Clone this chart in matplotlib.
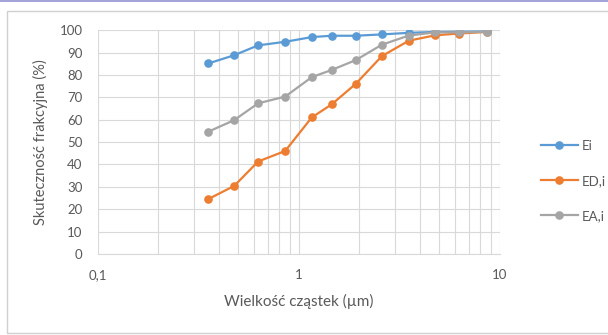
import matplotlib.pyplot as plt
from matplotlib.ticker import FixedLocator, LogLocator, NullFormatter
from matplotlib.patches import Rectangle
from matplotlib.lines import Line2D

# particle size (um) and fractional efficiency (%)
size = [0.354, 0.477, 0.627, 0.855, 1.16, 1.455, 1.92, 2.59, 3.53, 4.77, 6.27, 8.64]
ei = [85.1, 88.8, 93.2, 94.8, 96.9, 97.5, 97.5, 98.1, 98.8, 99.2, 99.3, 99.4]
ed = [24.5, 30.4, 41.3, 46.0, 61.0, 66.8, 76.0, 88.4, 95.3, 97.7, 98.5, 99.2]
ea = [54.6, 59.8, 67.3, 70.3, 79.0, 82.2, 86.6, 93.5, 97.6, 99.0, 99.0, 99.3]

names = ["Ei", "ED,i", "EA,i"]
colors = ["#5B9BD5", "#ED7D31", "#A5A5A5"]
xticks = [0.1, 1, 10]
xlabels = ["0,1", "1", "10"]
yticks = list(range(0, 101, 10))

plt.rcParams['font.family'] = ['Lato', 'DejaVu Sans']
txt = "#595959"
grid = "#d9d9d9"

fig = plt.figure(figsize=(6.08, 3.35), dpi=100)
ax = fig.add_axes([0.161, 0.242, 0.661, 0.668])

for ys, name, col in zip([ei, ed, ea], names, colors):
    ax.plot(size, ys, color=col, lw=1.6, marker='o', ms=5.2, label=name)

ax.set_xscale('log')
ax.set_xlim(0.1, 10)
ax.set_ylim(0, 100)
ax.xaxis.set_major_locator(FixedLocator(xticks))
ax.set_xticklabels(xlabels)
ax.xaxis.set_minor_locator(LogLocator(base=10, subs=range(2, 10)))
ax.xaxis.set_minor_formatter(NullFormatter())
ax.set_yticks(yticks)

ax.grid(True, which='both', color=grid, lw=0.8)
ax.set_axisbelow(True)
for s in ax.spines.values():
    s.set_visible(False)
ax.spines['bottom'].set_visible(True)
ax.spines['bottom'].set_color(grid)
ax.tick_params(which='both', length=0, labelsize=9.5, colors=txt)
ax.tick_params(axis='x', pad=11)
ax.tick_params(axis='y', pad=11)

ax.set_xlabel("Wielkość cząstek (µm)", fontsize=11, color=txt, labelpad=9)
ax.set_ylabel("Skuteczność frakcyjna (%)", fontsize=10.5, color=txt, labelpad=8)

handles = [Line2D([], [], color=c, lw=1.6, marker='o', ms=5.2) for c in colors]
fig.legend(handles, names, loc='center left', bbox_to_anchor=(0.87, 0.46),
           frameon=False, fontsize=9.5, labelcolor=txt, labelspacing=1.75,
           handlelength=2.8, handletextpad=0.3)

# chart frame and top strip
fig.patches.append(Rectangle((0.012, 0.006), 1.1, 0.962, transform=fig.transFigure,
                             fill=False, ec="#d0d0d0", lw=1.0))
fig.patches.append(Rectangle((0, 0.993), 1, 0.01, transform=fig.transFigure,
                             color="#a4a4d8", lw=0))

fig.savefig("out.png", dpi=100)
